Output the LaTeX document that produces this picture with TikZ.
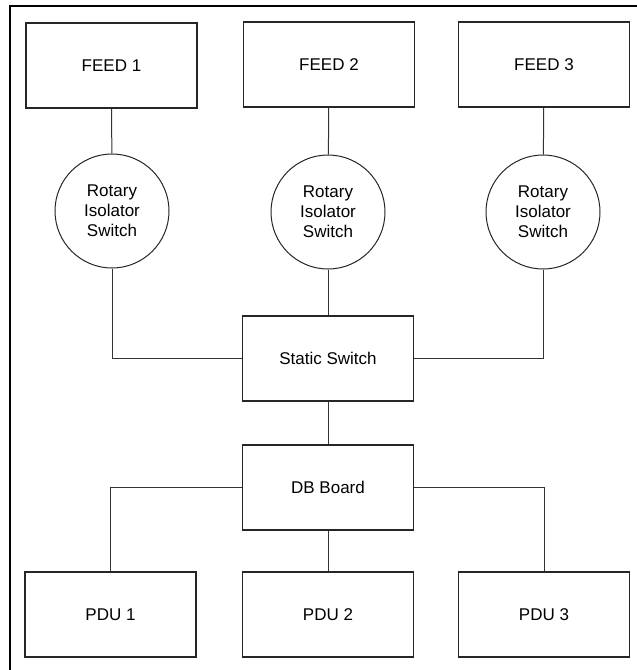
\documentclass[tikz,border=0pt]{standalone}
\usepackage{fontspec}
\setmainfont{Liberation Sans}

\begin{document}
\begin{tikzpicture}[
  x=1pt, y=-1pt,
  wire/.style={line width=1pt, draw=black!80},
  blk/.style={draw=black!85, line width=1.1pt, minimum width=171pt, minimum height=85pt, font=\fontsize{17}{20}\selectfont},
  rsw/.style={draw=black!85, line width=1pt, circle, minimum size=114pt, inner sep=0pt, align=center, font=\fontsize{17}{20}\selectfont},
]

\useasboundingbox (0,0) rectangle (637,670);
\draw [line width=2pt] (637,6) -- (10,6) -- (10,670);

% feeds
\node [blk] (feedA) at (111.5,65.5) {FEED 1};
\node [blk] (feedB) at (329,64.5) {FEED 2};
\node [blk] (feedC) at (544,64.5) {FEED 3};

% isolators
\node [rsw] (rswA) at (112,211) {Rotary\\Isolator\\Switch};
\node [rsw] (rswB) at (328,212) {Rotary\\Isolator\\Switch};
\node [rsw] (rswC) at (543,212) {Rotary\\Isolator\\Switch};

\node [blk] (sts) at (328,358.5) {Static Switch};
\node [blk] (dbb) at (328,487.5) {DB Board};

% pdus
\node [blk] (pduA) at (110.5,614.5) {PDU 1};
\node [blk] (pduB) at (328,614.5) {PDU 2};
\node [blk] (pduC) at (544,614.5) {PDU 3};

\draw [wire] (feedA) -- (rswA);
\draw [wire] (feedB) -- (rswB);
\draw [wire] (feedC) -- (rswC);

\draw [wire] (rswA.south) |- (sts.west);
\draw [wire] (rswB) -- (sts);
\draw [wire] (rswC.south) |- (sts.east);

\draw [wire] (sts) -- (dbb);

\draw [wire] (dbb.west) -| (pduA.north);
\draw [wire] (dbb) -- (pduB);
\draw [wire] (dbb.east) -| (pduC.north);

\end{tikzpicture}
\end{document}
